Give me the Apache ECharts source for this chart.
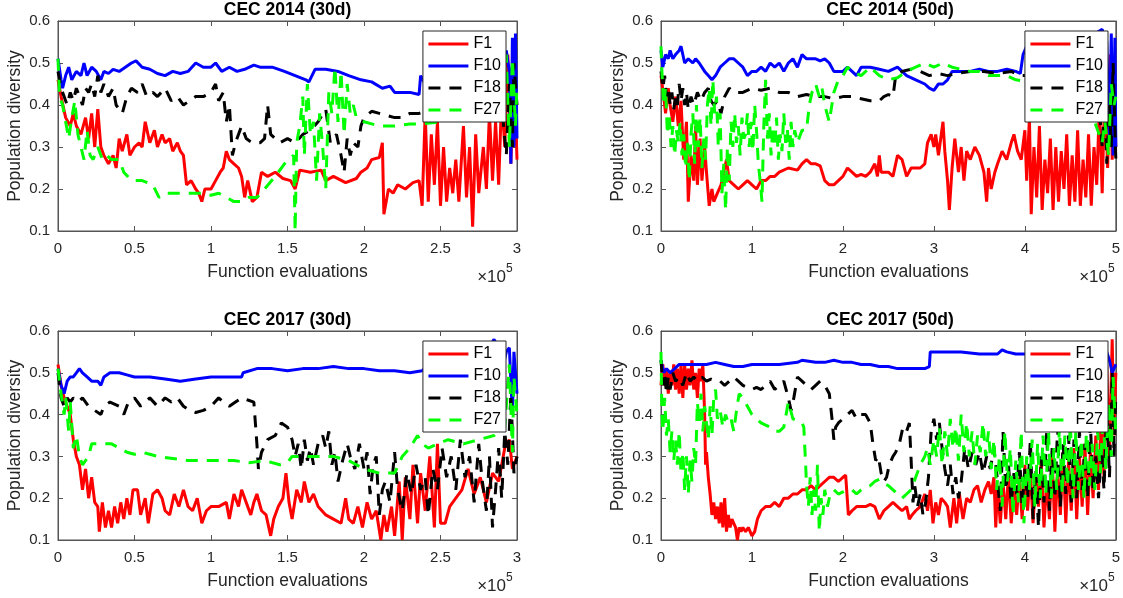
<!DOCTYPE html>
<html>
<head>
<meta charset="utf-8">
<script src="https://cdn.jsdelivr.net/npm/echarts@6/dist/echarts.min.js"></script>
<style>
html, body { margin: 0; padding: 0; background: #fff; }
#main { width: 1123px; height: 598px; }
</style>
</head>
<body>
<div id="main"></div>
<script>
// x in units of 1e5 function evaluations, y = population diversity
const names = ['F1', 'F10', 'F18', 'F27'];
const yTicks = [0.1, 0.2, 0.3, 0.4, 0.5, 0.6];

// CEC 2014 (30d)
const f1_14_30 = [[0,.46],[.02,.42],[.05,.37],[.08,.35],[.1,.38],[.12,.35],[.15,.33],[.18,.37],[.2,.32],[.22,.38],[.24,.3],[.26,.39],[.28,.3],[.3,.28],[.33,.26],[.36,.28],[.38,.25],[.4,.32],[.42,.29],[.45,.33],[.47,.28],[.5,.3],[.53,.31],[.55,.3],[.57,.36],[.6,.31],[.63,.34],[.65,.3],[.68,.33],[.7,.31],[.73,.32],[.75,.29],[.78,.31],[.8,.29],[.82,.28],[.84,.21],[.87,.22],[.9,.2],[.92,.19],[.94,.17],[.96,.2],[1,.2],[1.03,.22],[1.06,.24],[1.08,.25],[1.1,.29],[1.12,.27],[1.15,.26],[1.18,.25],[1.2,.23],[1.22,.18],[1.24,.22],[1.27,.17],[1.3,.18],[1.33,.24],[1.37,.23],[1.42,.24],[1.47,.225],[1.52,.22],[1.55,.2],[1.58,.245],[1.65,.24],[1.72,.245],[1.75,.22],[1.8,.23],[1.88,.215],[1.95,.225],[1.98,.24],[2.02,.25],[2.05,.27],[2.1,.275],[2.12,.31],[2.13,.14],[2.16,.2],[2.19,.19],[2.22,.21],[2.27,.2],[2.32,.215],[2.36,.22],[2.38,.16],[2.4,.38],[2.42,.17],[2.44,.33],[2.46,.21],[2.48,.36],[2.5,.16],[2.52,.3],[2.54,.17],[2.56,.25],[2.58,.19],[2.6,.27],[2.62,.17],[2.65,.35],[2.67,.18],[2.69,.3],[2.71,.11],[2.73,.33],[2.75,.19],[2.78,.3],[2.8,.2],[2.82,.38],[2.84,.22],[2.86,.36],[2.88,.21],[2.9,.42],[2.92,.3],[2.94,.52],[2.96,.26],[2.98,.5],[3,.27]];
const f10_14_30 = [[0,.51],[.02,.46],[.03,.44],[.05,.47],[.07,.49],[.09,.46],[.12,.48],[.15,.47],[.17,.5],[.19,.47],[.22,.49],[.25,.48],[.28,.46],[.3,.48],[.33,.475],[.36,.485],[.4,.48],[.44,.49],[.48,.5],[.51,.505],[.55,.49],[.6,.485],[.65,.475],[.7,.47],[.75,.48],[.8,.475],[.85,.48],[.9,.5],[.95,.49],[1,.49],[1.03,.5],[1.07,.48],[1.12,.49],[1.17,.48],[1.22,.485],[1.28,.495],[1.32,.49],[1.4,.49],[1.48,.48],[1.55,.47],[1.62,.46],[1.64,.455],[1.68,.485],[1.75,.485],[1.83,.48],[1.9,.47],[1.98,.46],[2.05,.455],[2.12,.44],[2.17,.445],[2.2,.43],[2.3,.43],[2.36,.425],[2.37,.47],[2.4,.45],[2.55,.45],[2.75,.46],[2.9,.45],[2.93,.53],[2.95,.48],[2.96,.26],[2.97,.56],[2.98,.3],[2.99,.57],[3,.32]];
const f18_14_30 = [[0,.48],[.02,.44],[.04,.42],[.06,.4],[.08,.43],[.1,.41],[.12,.44],[.14,.42],[.16,.4],[.18,.44],[.2,.43],[.22,.45],[.24,.42],[.26,.47],[.28,.43],[.3,.45],[.33,.42],[.36,.44],[.38,.4],[.42,.38],[.45,.42],[.48,.44],[.52,.43],[.55,.45],[.58,.42],[.62,.43],[.65,.42],[.7,.44],[.74,.41],[.78,.42],[.82,.4],[.86,.41],[.9,.42],[.95,.42],[1,.43],[1.03,.45],[1.05,.41],[1.08,.43],[1.1,.36],[1.12,.4],[1.14,.28],[1.16,.31],[1.2,.35],[1.23,.32],[1.27,.31],[1.32,.31],[1.35,.32],[1.37,.4],[1.39,.33],[1.42,.32],[1.45,.31],[1.5,.32],[1.55,.31],[1.6,.33],[1.65,.34],[1.7,.36],[1.75,.39],[1.78,.31],[1.82,.33],[1.85,.28],[1.87,.24],[1.89,.32],[1.91,.28],[1.93,.31],[1.96,.3],[1.98,.35],[2,.37],[2.05,.385],[2.1,.38],[2.15,.375],[2.2,.37],[2.25,.37],[2.3,.38],[2.36,.38],[2.45,.39],[2.6,.38],[2.8,.39],[2.9,.4],[2.93,.28],[2.95,.45],[2.97,.3],[2.98,.5],[3,.4]];
const f27_14_30 = [[0,.51],[.01,.42],[.03,.4],[.05,.36],[.07,.32],[.09,.37],[.11,.41],[.13,.33],[.15,.3],[.17,.27],[.19,.34],[.21,.28],[.23,.27],[.26,.3],[.29,.27],[.32,.28],[.35,.27],[.4,.27],[.43,.24],[.48,.22],[.55,.22],[.62,.21],[.66,.18],[.7,.19],[.78,.19],[.85,.19],[.9,.19],[.95,.19],[1,.185],[1.05,.19],[1.1,.18],[1.15,.17],[1.2,.17],[1.25,.18],[1.3,.18],[1.35,.2],[1.42,.23],[1.5,.27],[1.54,.28],[1.55,.1],[1.56,.31],[1.58,.35],[1.6,.42],[1.61,.28],[1.63,.45],[1.65,.33],[1.67,.36],[1.69,.22],[1.71,.38],[1.73,.3],[1.75,.2],[1.77,.43],[1.79,.38],[1.81,.49],[1.83,.36],[1.85,.48],[1.87,.33],[1.89,.45],[1.91,.38],[1.93,.4],[1.95,.37],[2,.36],[2.05,.355],[2.1,.35],[2.2,.35],[2.3,.355],[2.38,.355],[2.5,.36],[2.7,.38],[2.9,.4],[2.93,.52],[2.95,.3],[2.97,.51],[2.99,.35],[3,.45]];

// CEC 2014 (50d)
const f1_14_50 = [[0,.47],[.03,.42],[.05,.38],[.08,.44],[.1,.4],[.13,.36],[.16,.42],[.19,.35],[.22,.41],[.25,.27],[.28,.36],[.3,.17],[.33,.28],[.36,.22],[.38,.35],[.4,.21],[.43,.32],[.45,.22],[.48,.3],[.5,.24],[.53,.16],[.56,.2],[.58,.17],[.62,.19],[.66,.21],[.7,.25],[.72,.27],[.75,.22],[.8,.21],[.85,.2],[.9,.21],[.95,.22],[1,.21],[1.05,.2],[1.1,.22],[1.15,.22],[1.2,.23],[1.25,.23],[1.3,.24],[1.4,.25],[1.5,.245],[1.55,.26],[1.6,.27],[1.65,.26],[1.7,.26],[1.75,.255],[1.8,.22],[1.85,.21],[1.9,.21],[1.95,.22],[2,.23],[2.05,.25],[2.1,.24],[2.15,.23],[2.2,.235],[2.25,.23],[2.3,.24],[2.35,.26],[2.38,.23],[2.4,.28],[2.42,.24],[2.5,.24],[2.55,.23],[2.6,.28],[2.65,.27],[2.7,.23],[2.75,.25],[2.85,.25],[2.9,.26],[2.93,.31],[2.97,.33],[3,.3],[3.02,.33],[3.05,.28],[3.1,.36],[3.12,.29],[3.15,.22],[3.17,.15],[3.2,.25],[3.23,.32],[3.27,.24],[3.3,.3],[3.33,.22],[3.36,.29],[3.4,.27],[3.45,.3],[3.5,.28],[3.55,.24],[3.58,.17],[3.6,.25],[3.63,.2],[3.67,.24],[3.7,.26],[3.75,.29],[3.8,.27],[3.85,.31],[3.88,.33],[3.92,.29],[3.96,.27],[4,.34],[4.02,.22],[4.05,.37],[4.07,.14],[4.1,.3],[4.13,.18],[4.16,.35],[4.19,.15],[4.22,.27],[4.25,.19],[4.28,.32],[4.31,.15],[4.34,.3],[4.37,.17],[4.4,.29],[4.43,.2],[4.46,.33],[4.49,.16],[4.52,.28],[4.55,.17],[4.58,.34],[4.61,.16],[4.64,.27],[4.67,.18],[4.7,.33],[4.73,.16],[4.76,.3],[4.79,.21],[4.82,.4],[4.85,.19],[4.88,.45],[4.91,.25],[4.94,.52],[4.96,.27],[4.98,.45],[5,.3]];
const f10_14_50 = [[0,.53],[.02,.49],[.05,.52],[.08,.51],[.1,.53],[.13,.51],[.16,.52],[.2,.53],[.22,.54],[.26,.5],[.3,.51],[.35,.5],[.38,.51],[.42,.5],[.48,.48],[.52,.47],[.56,.46],[.6,.47],[.65,.49],[.7,.5],[.75,.51],[.8,.51],[.85,.5],[.9,.49],[.95,.47],[1,.48],[1.05,.48],[1.1,.49],[1.15,.48],[1.2,.5],[1.25,.49],[1.3,.5],[1.35,.48],[1.4,.5],[1.45,.51],[1.5,.49],[1.55,.52],[1.6,.51],[1.7,.51],[1.75,.505],[1.8,.51],[1.85,.5],[1.9,.48],[1.95,.48],[2,.48],[2.05,.49],[2.1,.48],[2.15,.47],[2.2,.49],[2.3,.49],[2.4,.485],[2.5,.48],[2.6,.49],[2.7,.47],[2.8,.46],[2.9,.45],[2.95,.44],[3,.435],[3.05,.45],[3.1,.45],[3.15,.46],[3.2,.48],[3.3,.48],[3.4,.48],[3.5,.485],[3.6,.48],[3.7,.48],[3.8,.485],[3.9,.48],[3.95,.475],[3.98,.52],[4.02,.54],[4.1,.54],[4.3,.55],[4.7,.56],[4.85,.58],[4.9,.55],[4.93,.32],[4.95,.57],[4.97,.28],[4.99,.56],[5,.3]];
const f18_14_50 = [[0,.48],[.02,.44],[.04,.47],[.06,.42],[.08,.44],[.1,.4],[.12,.43],[.14,.39],[.16,.42],[.18,.4],[.2,.45],[.22,.41],[.24,.44],[.26,.4],[.28,.43],[.3,.39],[.33,.42],[.36,.4],[.4,.43],[.44,.41],[.48,.43],[.52,.44],[.55,.41],[.58,.4],[.62,.41],[.66,.38],[.7,.42],[.75,.44],[.8,.43],[.9,.43],[1,.44],[1.1,.435],[1.2,.44],[1.3,.43],[1.4,.43],[1.5,.42],[1.6,.425],[1.7,.42],[1.8,.42],[1.9,.415],[2,.42],[2.1,.42],[2.2,.415],[2.3,.41],[2.4,.41],[2.45,.42],[2.5,.425],[2.55,.42],[2.58,.47],[2.65,.48],[2.75,.485],[2.85,.48],[2.95,.47],[3.05,.475],[3.15,.47],[3.25,.475],[3.4,.48],[3.55,.48],[3.7,.475],[3.85,.48],[3.95,.47],[4.2,.47],[4.6,.46],[4.8,.45],[4.85,.3],[4.88,.42],[4.9,.26],[4.93,.4],[4.95,.3],[4.97,.5],[5,.27]];
const f27_14_50 = [[0,.54],[.01,.48],[.03,.4],[.05,.44],[.07,.33],[.09,.38],[.11,.3],[.13,.35],[.15,.28],[.17,.34],[.19,.31],[.21,.36],[.23,.28],[.25,.33],[.27,.25],[.29,.31],[.31,.22],[.33,.33],[.35,.38],[.37,.26],[.39,.4],[.41,.3],[.43,.37],[.45,.25],[.47,.32],[.49,.27],[.51,.4],[.53,.44],[.55,.35],[.57,.46],[.59,.38],[.61,.42],[.63,.3],[.65,.38],[.67,.19],[.69,.26],[.71,.15],[.73,.3],[.75,.22],[.77,.36],[.79,.3],[.81,.38],[.83,.31],[.85,.35],[.87,.28],[.89,.37],[.91,.32],[.93,.33],[.95,.38],[.97,.3],[.99,.36],[1.01,.29],[1.03,.4],[1.05,.34],[1.07,.26],[1.09,.22],[1.11,.17],[1.13,.35],[1.15,.46],[1.17,.32],[1.19,.38],[1.21,.28],[1.23,.35],[1.25,.3],[1.27,.37],[1.29,.27],[1.31,.33],[1.33,.29],[1.35,.38],[1.37,.31],[1.39,.34],[1.41,.27],[1.43,.36],[1.45,.3],[1.47,.34],[1.5,.31],[1.55,.34],[1.6,.34],[1.63,.4],[1.66,.43],[1.7,.45],[1.74,.42],[1.77,.44],[1.8,.4],[1.85,.36],[1.9,.43],[1.95,.46],[2,.47],[2.05,.49],[2.1,.48],[2.2,.47],[2.3,.49],[2.4,.47],[2.5,.46],[2.6,.465],[2.7,.48],[2.8,.49],[2.9,.5],[3,.49],[3.1,.5],[3.2,.49],[3.3,.485],[3.4,.48],[3.5,.48],[3.6,.47],[3.7,.47],[3.8,.47],[3.9,.46],[4.2,.45],[4.7,.4],[4.85,.31],[4.88,.36],[4.92,.28],[4.95,.45],[4.98,.4],[5,.42]];

// CEC 2017 (30d)
const f1_17_30 = [[0,.52],[.02,.47],[.04,.44],[.06,.42],[.08,.4],[.1,.34],[.12,.3],[.14,.28],[.16,.22],[.18,.27],[.2,.2],[.22,.25],[.24,.19],[.26,.18],[.27,.12],[.29,.19],[.31,.13],[.33,.17],[.35,.13],[.37,.18],[.39,.14],[.41,.19],[.43,.15],[.45,.2],[.47,.16],[.49,.22],[.52,.22],[.54,.16],[.57,.2],[.59,.14],[.62,.21],[.65,.22],[.68,.2],[.7,.17],[.73,.16],[.76,.21],[.79,.18],[.82,.22],[.85,.18],[.88,.17],[.91,.2],[.94,.14],[.97,.17],[1,.18],[1.05,.18],[1.1,.19],[1.12,.15],[1.15,.21],[1.18,.18],[1.2,.22],[1.23,.19],[1.26,.16],[1.28,.19],[1.3,.21],[1.33,.17],[1.36,.16],[1.39,.11],[1.41,.15],[1.44,.18],[1.47,.2],[1.49,.26],[1.51,.19],[1.53,.15],[1.56,.22],[1.59,.19],[1.61,.24],[1.64,.19],[1.67,.21],[1.7,.18],[1.75,.16],[1.8,.15],[1.85,.14],[1.88,.2],[1.9,.15],[1.93,.14],[1.96,.18],[1.99,.13],[2.02,.19],[2.05,.15],[2.08,.17],[2.11,.1],[2.13,.16],[2.15,.12],[2.18,.18],[2.2,.11],[2.23,.24],[2.25,.1],[2.27,.25],[2.3,.15],[2.32,.28],[2.35,.14],[2.37,.26],[2.4,.17],[2.43,.3],[2.46,.13],[2.48,.33],[2.5,.14],[2.53,.14],[2.56,.18],[2.6,.2],[2.64,.22],[2.68,.27],[2.72,.21],[2.76,.25],[2.8,.19],[2.84,.26],[2.88,.24],[2.92,.32],[2.95,.34],[2.97,.27],[3,.3]];
const f10_17_30 = [[0,.51],[.02,.47],[.04,.45],[.06,.48],[.08,.49],[.1,.49],[.12,.5],[.14,.51],[.16,.5],[.19,.49],[.22,.48],[.26,.48],[.28,.47],[.3,.49],[.34,.5],[.4,.5],[.45,.495],[.5,.49],[.6,.49],[.7,.485],[.8,.48],[.9,.485],[1,.49],[1.1,.49],[1.2,.49],[1.21,.5],[1.3,.51],[1.4,.51],[1.5,.505],[1.6,.51],[1.7,.51],[1.8,.515],[1.9,.51],[2,.51],[2.1,.505],[2.2,.505],[2.3,.5],[2.38,.505],[2.42,.52],[2.6,.52],[2.8,.55],[2.85,.58],[2.88,.56],[2.9,.5],[2.93,.55],[2.95,.56],[2.97,.4],[2.98,.55],[3,.45]];
const f18_17_30 = [[0,.5],[.02,.44],[.04,.42],[.06,.44],[.08,.43],[.1,.44],[.13,.43],[.16,.44],[.2,.42],[.24,.41],[.28,.4],[.3,.42],[.34,.43],[.4,.42],[.43,.4],[.46,.43],[.5,.44],[.54,.42],[.57,.43],[.6,.44],[.65,.42],[.7,.44],[.74,.43],[.78,.44],[.82,.42],[.86,.41],[.9,.405],[.95,.41],[1,.42],[1.05,.44],[1.08,.43],[1.12,.42],[1.16,.43],[1.2,.44],[1.24,.435],[1.28,.43],[1.3,.33],[1.31,.27],[1.33,.31],[1.37,.34],[1.42,.35],[1.46,.38],[1.5,.37],[1.53,.34],[1.55,.3],[1.57,.33],[1.59,.27],[1.61,.34],[1.63,.29],[1.65,.32],[1.67,.28],[1.7,.33],[1.73,.35],[1.75,.32],[1.77,.36],[1.79,.28],[1.81,.31],[1.83,.24],[1.86,.29],[1.89,.33],[1.91,.3],[1.94,.27],[1.97,.33],[2,.27],[2.02,.31],[2.04,.21],[2.06,.28],[2.08,.3],[2.1,.16],[2.12,.22],[2.14,.24],[2.17,.19],[2.2,.31],[2.22,.22],[2.25,.17],[2.28,.26],[2.31,.21],[2.34,.28],[2.37,.22],[2.4,.25],[2.42,.16],[2.45,.27],[2.48,.22],[2.51,.32],[2.54,.25],[2.57,.3],[2.6,.22],[2.63,.34],[2.66,.25],[2.69,.3],[2.72,.19],[2.75,.33],[2.77,.25],[2.8,.17],[2.82,.3],[2.84,.13],[2.86,.22],[2.88,.32],[2.9,.2],[2.92,.36],[2.94,.28],[2.96,.45],[2.98,.26],[3,.3]];
const f27_17_30 = [[0,.51],[.02,.45],[.04,.4],[.05,.44],[.07,.36],[.08,.43],[.1,.32],[.12,.35],[.14,.3],[.16,.28],[.18,.29],[.2,.3],[.22,.33],[.25,.33],[.3,.33],[.35,.33],[.4,.32],[.45,.31],[.5,.305],[.55,.31],[.6,.305],[.65,.3],[.75,.295],[.85,.29],[.95,.29],[1.05,.29],[1.15,.29],[1.25,.285],[1.35,.29],[1.45,.28],[1.5,.285],[1.53,.3],[1.6,.3],[1.7,.3],[1.8,.3],[1.9,.29],[1.95,.28],[2,.27],[2.05,.265],[2.1,.26],[2.15,.26],[2.2,.26],[2.25,.3],[2.3,.32],[2.35,.35],[2.38,.33],[2.42,.32],[2.48,.33],[2.55,.34],[2.65,.33],[2.75,.34],[2.85,.35],[2.92,.37],[2.95,.52],[2.97,.31],[2.98,.49],[3,.4]];

// CEC 2017 (50d)
const f1_17_50 = [[0,.47],[.02,.52],[.04,.47],[.06,.51],[.08,.45],[.1,.5],[.12,.47],[.14,.52],[.16,.46],[.18,.51],[.2,.45],[.22,.52],[.24,.44],[.26,.52],[.28,.46],[.3,.51],[.32,.47],[.34,.53],[.36,.46],[.38,.5],[.4,.44],[.42,.51],[.44,.48],[.46,.52],[.48,.4],[.49,.28],[.5,.31],[.52,.25],[.54,.21],[.56,.16],[.58,.19],[.6,.15],[.62,.18],[.64,.14],[.66,.19],[.68,.13],[.7,.2],[.72,.12],[.74,.16],[.76,.13],[.78,.15],[.8,.14],[.82,.13],[.84,.1],[.86,.13],[.88,.12],[.9,.13],[.93,.12],[.96,.13],[1,.11],[1.03,.12],[1.06,.15],[1.1,.17],[1.15,.18],[1.2,.18],[1.25,.19],[1.3,.18],[1.35,.2],[1.4,.2],[1.45,.21],[1.5,.21],[1.55,.22],[1.6,.22],[1.65,.23],[1.7,.22],[1.75,.23],[1.8,.24],[1.85,.25],[1.9,.25],[1.95,.24],[2,.25],[2.03,.255],[2.06,.16],[2.1,.17],[2.15,.18],[2.2,.18],[2.25,.18],[2.3,.185],[2.35,.18],[2.4,.15],[2.45,.17],[2.5,.18],[2.55,.19],[2.6,.18],[2.65,.17],[2.7,.18],[2.73,.15],[2.76,.16],[2.8,.17],[2.85,.18],[2.9,.21],[2.93,.17],[2.96,.22],[2.99,.14],[3.02,.19],[3.05,.16],[3.08,.2],[3.12,.19],[3.15,.18],[3.18,.13],[3.22,.2],[3.25,.14],[3.28,.21],[3.32,.15],[3.36,.2],[3.4,.19],[3.44,.22],[3.48,.23],[3.52,.19],[3.56,.22],[3.6,.24],[3.63,.21],[3.66,.25],[3.68,.13],[3.7,.23],[3.73,.14],[3.76,.24],[3.79,.15],[3.82,.26],[3.85,.14],[3.88,.23],[3.91,.16],[3.94,.25],[3.97,.15],[4,.28],[4.03,.17],[4.06,.27],[4.09,.14],[4.12,.25],[4.15,.18],[4.18,.29],[4.21,.13],[4.24,.24],[4.27,.15],[4.3,.3],[4.33,.12],[4.36,.27],[4.39,.16],[4.42,.31],[4.45,.14],[4.48,.29],[4.51,.17],[4.54,.32],[4.57,.15],[4.6,.3],[4.63,.18],[4.66,.33],[4.69,.16],[4.72,.31],[4.75,.2],[4.78,.35],[4.81,.22],[4.84,.4],[4.87,.25],[4.9,.52],[4.93,.3],[4.96,.58],[4.98,.35],[5,.5]];
const f10_17_50 = [[0,.53],[.03,.5],[.06,.51],[.1,.5],[.15,.51],[.2,.52],[.3,.52],[.4,.52],[.5,.52],[.6,.525],[.7,.52],[.8,.515],[.9,.515],[1,.52],[1.1,.52],[1.2,.52],[1.3,.52],[1.5,.525],[1.55,.53],[1.7,.525],[1.8,.525],[1.9,.53],[2,.525],[2.1,.525],[2.2,.52],[2.3,.52],[2.4,.515],[2.5,.515],[2.6,.51],[2.7,.51],[2.8,.51],[2.9,.51],[2.95,.515],[2.96,.55],[3.1,.55],[3.3,.55],[3.5,.545],[3.7,.545],[3.75,.555],[3.8,.55],[3.9,.545],[4,.545],[4.4,.55],[4.9,.55],[4.93,.53],[4.96,.5],[5,.52]];
const f18_17_50 = [[0,.53],[.02,.47],[.04,.5],[.06,.45],[.08,.49],[.1,.46],[.13,.5],[.16,.48],[.2,.49],[.24,.47],[.28,.5],[.32,.48],[.36,.49],[.4,.48],[.45,.49],[.5,.48],[.55,.485],[.6,.48],[.65,.48],[.7,.47],[.75,.48],[.8,.49],[.85,.48],[.9,.47],[.95,.465],[1,.46],[1.05,.465],[1.1,.46],[1.15,.47],[1.2,.48],[1.25,.46],[1.3,.47],[1.35,.48],[1.4,.44],[1.43,.41],[1.46,.44],[1.5,.49],[1.55,.48],[1.6,.47],[1.65,.46],[1.7,.47],[1.75,.48],[1.8,.47],[1.85,.45],[1.88,.39],[1.9,.34],[1.92,.37],[1.95,.38],[2,.39],[2.05,.4],[2.1,.41],[2.15,.39],[2.2,.4],[2.25,.4],[2.3,.38],[2.33,.33],[2.36,.29],[2.39,.3],[2.42,.26],[2.45,.24],[2.48,.25],[2.51,.28],[2.55,.3],[2.58,.31],[2.62,.33],[2.66,.37],[2.7,.36],[2.73,.38],[2.75,.29],[2.77,.19],[2.79,.23],[2.82,.18],[2.85,.21],[2.88,.16],[2.91,.19],[2.94,.25],[2.97,.36],[3,.39],[3.03,.34],[3.06,.38],[3.09,.32],[3.12,.27],[3.15,.23],[3.18,.28],[3.21,.21],[3.24,.25],[3.27,.2],[3.3,.24],[3.34,.32],[3.38,.27],[3.42,.31],[3.46,.28],[3.5,.31],[3.54,.26],[3.58,.3],[3.62,.27],[3.66,.32],[3.7,.24],[3.73,.17],[3.76,.36],[3.79,.22],[3.82,.28],[3.85,.19],[3.88,.26],[3.91,.21],[3.94,.31],[3.97,.18],[4,.27],[4.03,.2],[4.06,.34],[4.09,.15],[4.12,.27],[4.15,.13],[4.18,.3],[4.21,.19],[4.24,.36],[4.27,.17],[4.3,.32],[4.33,.2],[4.36,.37],[4.39,.18],[4.42,.33],[4.45,.21],[4.48,.35],[4.51,.19],[4.54,.34],[4.57,.2],[4.6,.36],[4.63,.22],[4.66,.33],[4.69,.2],[4.72,.38],[4.75,.22],[4.78,.3],[4.81,.2],[4.84,.32],[4.87,.22],[4.9,.42],[4.93,.25],[4.96,.5],[4.98,.3],[5,.45]];
const f27_17_50 = [[0,.55],[.01,.4],[.02,.36],[.04,.44],[.06,.35],[.08,.39],[.1,.31],[.12,.36],[.14,.29],[.16,.34],[.18,.28],[.2,.36],[.22,.26],[.24,.31],[.26,.22],[.28,.3],[.3,.21],[.32,.29],[.34,.24],[.36,.32],[.38,.28],[.4,.43],[.42,.38],[.44,.45],[.46,.36],[.48,.42],[.5,.38],[.52,.34],[.54,.42],[.56,.35],[.58,.44],[.6,.46],[.62,.39],[.65,.41],[.68,.37],[.71,.4],[.74,.38],[.77,.39],[.8,.36],[.83,.41],[.86,.45],[.9,.44],[.95,.42],[1,.4],[1.05,.39],[1.1,.38],[1.15,.375],[1.2,.37],[1.25,.36],[1.3,.36],[1.35,.37],[1.4,.43],[1.45,.39],[1.5,.385],[1.55,.38],[1.57,.37],[1.59,.28],[1.6,.23],[1.62,.18],[1.64,.25],[1.66,.16],[1.68,.22],[1.7,.17],[1.72,.28],[1.74,.12],[1.76,.2],[1.78,.16],[1.8,.22],[1.83,.18],[1.86,.21],[1.9,.22],[1.95,.21],[2,.215],[2.05,.22],[2.1,.22],[2.15,.21],[2.2,.22],[2.25,.225],[2.3,.23],[2.35,.24],[2.4,.245],[2.45,.235],[2.5,.23],[2.55,.22],[2.6,.21],[2.65,.2],[2.7,.21],[2.75,.22],[2.8,.25],[2.85,.28],[2.9,.3],[2.93,.32],[2.96,.28],[3,.34],[3.03,.3],[3.06,.37],[3.09,.28],[3.12,.36],[3.15,.3],[3.18,.39],[3.21,.32],[3.24,.37],[3.27,.29],[3.3,.4],[3.33,.31],[3.36,.38],[3.39,.3],[3.42,.36],[3.45,.28],[3.48,.35],[3.51,.31],[3.54,.38],[3.57,.3],[3.6,.36],[3.63,.27],[3.66,.34],[3.69,.22],[3.72,.3],[3.75,.18],[3.78,.36],[3.81,.24],[3.84,.32],[3.87,.16],[3.9,.29],[3.93,.19],[3.96,.36],[3.99,.14],[4.02,.3],[4.05,.22],[4.08,.34],[4.11,.18],[4.14,.33],[4.17,.2],[4.2,.35],[4.23,.21],[4.26,.36],[4.29,.2],[4.32,.32],[4.35,.22],[4.38,.37],[4.41,.21],[4.44,.35],[4.47,.23],[4.5,.38],[4.53,.2],[4.56,.36],[4.59,.22],[4.62,.34],[4.65,.2],[4.68,.38],[4.71,.23],[4.74,.33],[4.77,.22],[4.8,.36],[4.83,.26],[4.86,.4],[4.89,.27],[4.92,.43],[4.95,.3],[4.97,.49],[5,.35]];

const panels = [
  { title: 'CEC 2014 (30d)', left: 58, top: 21, width: 459, height: 210, xmax: 3, xint: 0.5, data: [f1_14_30, f10_14_30, f18_14_30, f27_14_30] },
  { title: 'CEC 2014 (50d)', left: 661, top: 21, width: 458, height: 210, xmax: 5, xint: 1, data: [f1_14_50, f10_14_50, f18_14_50, f27_14_50] },
  { title: 'CEC 2017 (30d)', left: 58, top: 331, width: 459, height: 209, xmax: 3, xint: 0.5, data: [f1_17_30, f10_17_30, f18_17_30, f27_17_30] },
  { title: 'CEC 2017 (50d)', left: 661, top: 331, width: 458, height: 209, xmax: 5, xint: 1, data: [f1_17_50, f10_17_50, f18_17_50, f27_17_50] }
];

const colors = ['#ff0000', '#0000ff', '#000000', '#00ff00'];
const dashes = ['solid', 'solid', [12, 9], [12, 9]];
const font = "'Liberation Sans', Arial, Helvetica, sans-serif";
const axisColor = '#555';
const textColor = '#262626';

const chart = echarts.init(document.getElementById('main'), null, { renderer: 'canvas' });

const grid = [], xAxis = [], yAxis = [], series = [], title = [], legend = [], graphic = [];

panels.forEach(function (p, i) {
  grid.push({ left: p.left, top: p.top, width: p.width, height: p.height, show: true, borderColor: axisColor, borderWidth: 1, backgroundColor: '#fff' });
  const tick = { show: true, inside: true, length: 5, lineStyle: { color: axisColor } };
  // bottom x axis
  xAxis.push({
    type: 'value', gridIndex: i, min: 0, max: p.xmax, interval: p.xint, position: 'bottom',
    name: 'Function evaluations', nameLocation: 'middle', nameGap: 32,
    nameTextStyle: { fontFamily: font, fontSize: 17.5, color: textColor },
    axisLine: { show: true, onZero: false, lineStyle: { color: axisColor } },
    axisTick: tick,
    axisLabel: { fontFamily: font, fontSize: 15, color: textColor, margin: 10, showMinLabel: true, showMaxLabel: true },
    splitLine: { show: false }
  });
  // top x axis (ticks only)
  xAxis.push({
    type: 'value', gridIndex: i, min: 0, max: p.xmax, interval: p.xint, position: 'top',
    axisLine: { show: true, onZero: false, lineStyle: { color: axisColor } },
    axisTick: tick, axisLabel: { show: false }, splitLine: { show: false }
  });
  yAxis.push({
    type: 'value', gridIndex: i, min: 0.1, max: 0.6, interval: 0.1, position: 'left',
    name: 'Population diversity', nameLocation: 'middle', nameGap: 34,
    nameTextStyle: { fontFamily: font, fontSize: 17.5, color: textColor },
    axisLine: { show: true, onZero: false, lineStyle: { color: axisColor } },
    axisTick: tick,
    axisLabel: { fontFamily: font, fontSize: 15, color: textColor, margin: 8, formatter: function (v) { return v.toFixed(1); } },
    splitLine: { show: false }
  });
  yAxis.push({
    type: 'value', gridIndex: i, min: 0.1, max: 0.6, interval: 0.1, position: 'right',
    axisLine: { show: true, onZero: false, lineStyle: { color: axisColor } },
    axisTick: tick, axisLabel: { show: false }, splitLine: { show: false }
  });
  title.push({
    text: p.title, left: p.left + p.width / 2, top: p.top - 20, textAlign: 'center', padding: 0,
    textStyle: { fontFamily: font, fontSize: 17.5, fontWeight: 'bold', color: '#000' }
  });
  legend.push({
    data: names, orient: 'vertical', z: 20,
    right: 1123 - (p.left + p.width - 11), top: p.top + 10,
    itemWidth: 40, itemHeight: 14, itemGap: 6,
    padding: [5, 5, 4, 4],
    backgroundColor: '#fff', borderColor: '#262626', borderWidth: 1,
    itemStyle: { opacity: 0 },
    lineStyle: { width: 3 },
    textStyle: { fontFamily: font, fontSize: 16, color: '#000' },
    selectedMode: false
  });
  const rx = p.left + p.width - 2;
  const by = p.top + p.height;
  graphic.push({ type: 'text', x: rx - 9, y: by + 46, style: { text: '×10', font: '17px ' + font, fill: textColor, textAlign: 'right', textVerticalAlign: 'middle' } });
  graphic.push({ type: 'text', x: rx - 9, y: by + 38, style: { text: '5', font: '12px ' + font, fill: textColor, textAlign: 'left', textVerticalAlign: 'middle' } });

  p.data.forEach(function (d, k) {
    series.push({
      name: names[k], type: 'line', xAxisIndex: 2 * i, yAxisIndex: 2 * i,
      data: d, showSymbol: false, symbol: 'none',
      lineStyle: { color: colors[k], width: 3, type: dashes[k] },
      itemStyle: { color: colors[k] },
      z: 2 + k
    });
  });
});

chart.setOption({
  animation: false,
  backgroundColor: '#fff',
  title: title,
  legend: legend,
  grid: grid,
  xAxis: xAxis,
  yAxis: yAxis,
  series: series,
  graphic: graphic
});
</script>
</body>
</html>
